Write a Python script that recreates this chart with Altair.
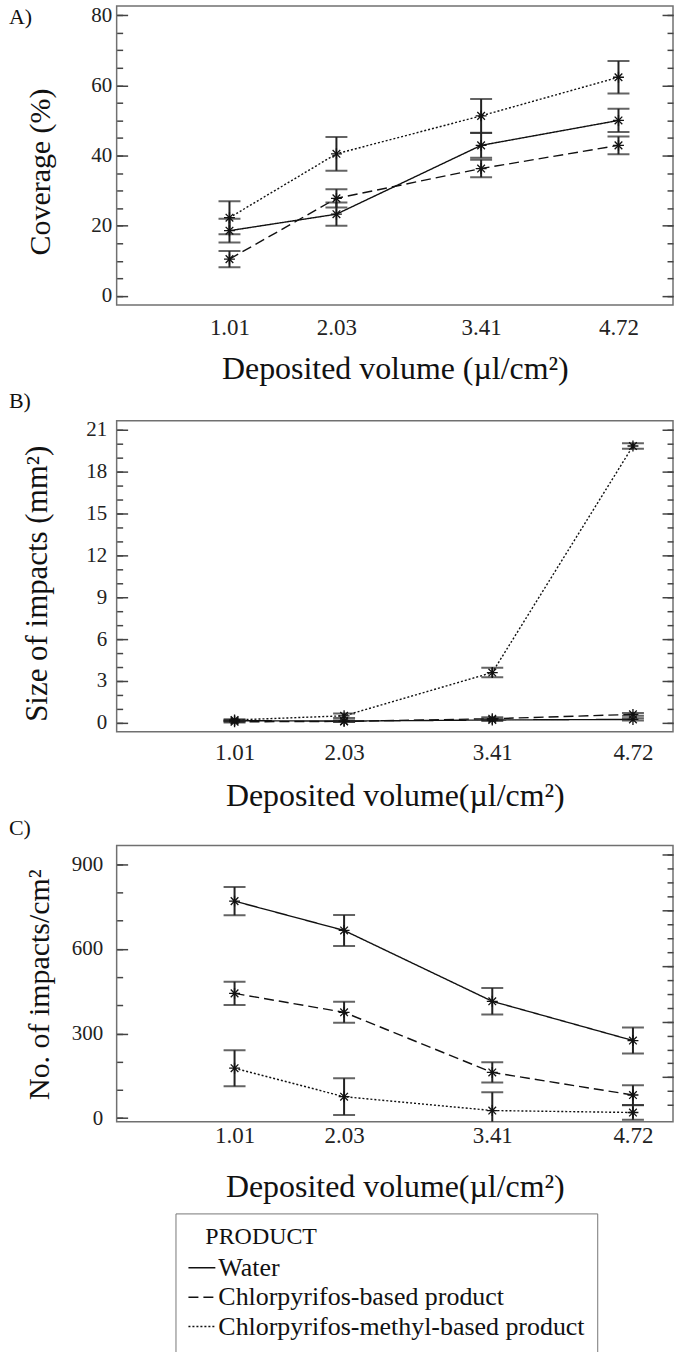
import altair as alt
import pandas as pd

FONT = "Liberation Serif"

products = ["Water", "Chlorpyrifos-based product", "Chlorpyrifos-methyl-based product"]
volumes = [1.01, 2.03, 3.41, 4.72]

# A) Coverage (%)
cov_water = [18.6, 23.3, 42.9, 50.0]
cov_water_err = [3.4, 3.3, 3.5, 3.3]
cov_chl = [10.5, 27.8, 36.3, 42.9]
cov_chl_err = [2.3, 2.6, 2.5, 2.5]
cov_met = [22.3, 40.5, 51.3, 62.3]
cov_met_err = [4.7, 4.8, 4.8, 4.6]

# B) Size of impacts (mm2)
size_water = [0.15, 0.12, 0.20, 0.24]
size_water_err = [0.05, 0.05, 0.08, 0.08]
size_chl = [0.07, 0.10, 0.29, 0.60]
size_chl_err = [0.05, 0.05, 0.10, 0.10]
size_met = [0.20, 0.50, 3.60, 19.84]
size_met_err = [0.06, 0.16, 0.34, 0.20]

# C) No. of impacts/cm2
num_water = [769, 665, 414, 275]
num_water_err = [50, 55, 47, 46]
num_chl = [442, 375, 162, 82]
num_chl_err = [41, 37, 36, 35]
num_met = [177, 76, 27, 20]
num_met_err = [64, 65, 65, 26]

# axis ticks
a_major = [0, 20, 40, 60, 80]
a_minor = list(range(0, 81, 5))
b_major = list(range(0, 22, 3))
b_minor = list(range(0, 22, 1))
c_major = [0, 300, 600, 900]
c_minor = list(range(0, 901, 100))
c_right_major = [145, 342, 539, 736, 933]
c_right_minor = [46.5 + 49.25 * i for i in range(19)]

ASTERISK = "M-1,0L1,0M0,-1L0,1M-0.7,-0.7L0.7,0.7M-0.7,0.7L0.7,-0.7"
dash_scale = alt.Scale(domain=products, range=[[1, 0], [10, 5], [2, 2]])


def build_df(means, errs):
    rows = []
    for p, m, e in zip(products, means, errs):
        for v, mv, ev in zip(volumes, m, e):
            rows.append({"volume": v, "product": p, "mean": mv,
                         "lo": mv - ev, "hi": mv + ev})
    return pd.DataFrame(rows)


def tick_axis(values, orient, size):
    return alt.Axis(values=values, orient=orient, tickSize={"expr": str(-size)},
                    tickColor="#444", tickWidth=1.5, domain=False, grid=False,
                    labels=False, title=None)


def panel(df, label, label_dy, ytitle, ytitle_size, title_y, title_pad, ylab_pad,
          xtitle, xlab_pad, xtitle_pad, xdom, ydom, major, minor, rmajor, rminor,
          height, legend=None):
    x = alt.X("volume:Q", scale=alt.Scale(domain=xdom, nice=False, zero=False),
              axis=alt.Axis(values=volumes, format=".2f", ticks=False, tickSize=0,
                            domain=False, grid=False, labelFontSize=23,
                            labelPadding=xlab_pad, labelColor="#222", title=xtitle,
                            titleFontSize=32, titleFontWeight="normal",
                            titlePadding=xtitle_pad, titleColor="#111"))
    ysc = alt.Scale(domain=ydom, nice=False, zero=False)
    base = alt.Chart(df)
    main_axis = alt.Axis(values=major, orient="left", tickSize={"expr": "-11"},
                         tickColor="#444", tickWidth=1.5, domain=False, grid=False,
                         labelFontSize=21, labelPadding=ylab_pad, labelColor="#222",
                         title=ytitle, titleFontSize=ytitle_size,
                         titleFontWeight="normal", titleColor="#111",
                         titlePadding=title_pad, titleY=title_y)
    lines = base.mark_line(color="#111", strokeWidth=1.4).encode(
        x=x, y=alt.Y("mean:Q", scale=ysc, axis=main_axis),
        strokeDash=alt.StrokeDash("product:N", scale=dash_scale, legend=legend))
    rules = base.mark_rule(color="#222", strokeWidth=2, clip=True).encode(
        x=x, y=alt.Y("lo:Q", scale=ysc, axis=tick_axis(minor, "left", 6)),
        y2="hi:Q")
    caps_hi = base.mark_tick(orient="horizontal", size=22, thickness=2,
                             color="#222", clip=True).encode(
        x=x, y=alt.Y("hi:Q", scale=ysc, axis=tick_axis(rmajor, "right", 11)))
    caps_lo = base.mark_tick(orient="horizontal", size=22, thickness=2,
                             color="#222", clip=True).encode(
        x=x, y=alt.Y("lo:Q", scale=ysc, axis=tick_axis(rminor, "right", 6)))
    pts = base.mark_point(shape=ASTERISK, filled=False, size=120, color="#111",
                          strokeWidth=1.3, opacity=1).encode(
        x=x, y=alt.Y("mean:Q", scale=ysc, axis=None))
    return alt.layer(lines, rules, caps_hi, caps_lo, pts).resolve_axis(
        y="independent").properties(
        width=558, height=height,
        title=alt.TitleParams(label, anchor="start", frame="group", dx=-108,
                              dy=label_dy, offset=-11, fontSize=22, font=FONT,
                              fontWeight="normal", color="#111",
                              baseline="alphabetic"))


df_a = build_df([cov_water, cov_chl, cov_met],
                [cov_water_err, cov_chl_err, cov_met_err])
df_b = build_df([size_water, size_chl, size_met],
                [size_water_err, size_chl_err, size_met_err])
df_c = build_df([num_water, num_chl, num_met],
                [num_water_err, num_chl_err, num_met_err])

legend = alt.Legend(orient="none", legendX=59, legendY=369,
                    title="\u200d\u00a0\u00a0\u00a0PRODUCT", titleFontSize=24,
                    titleFontWeight="normal", titleColor="#111", titleFont=FONT,
                    labelFontSize=26, labelFont=FONT, labelColor="#111",
                    labelLimit=600, symbolType="stroke", symbolSize=729,
                    symbolStrokeWidth=1.5, symbolStrokeColor="#111",
                    strokeColor="#777", fillColor="white", padding=12,
                    rowPadding=1.5, labelOffset=2, titlePadding=4)

chart_a = panel(df_a, "A)", 31, "Coverage (%)", 30, 166, 35, 16,
                "Deposited volume (\u00b5l/cm\u00b2)", 11, 15,
                [-0.066, 5.24], [-2.6, 82.6],
                a_major, a_minor, a_major, a_minor, 300)
chart_b = panel(df_b, "B)", 0, "Size of impacts (mm\u00b2)", 31, 163, 32, 21,
                "Deposited volume(\u00b5l/cm\u00b2)", 10, 16,
                [-0.088, 5.093], [-0.65, 21.65],
                b_major, b_minor, b_major, b_minor, 312)
chart_c = panel(df_c, "C)", 0, "No. of impacts/cm\u00b2", 30, 139, 17, 25,
                "Deposited volume(\u00b5l/cm\u00b2)", 3, 24,
                [-0.088, 5.093], [-12.5, 966],
                c_major, c_minor, c_right_major, c_right_minor, 277, legend=legend)

chart = alt.vconcat(chart_a, chart_b, chart_c, spacing=3).resolve_legend(
    strokeDash="independent").properties(
    padding={"left": 8, "top": 1, "right": 0, "bottom": 0}).configure(
    font=FONT, background="white").configure_view(stroke="#707070", strokeWidth=1.5)

chart.save("out.html", embed_options={"renderer": "svg", "actions": False})
